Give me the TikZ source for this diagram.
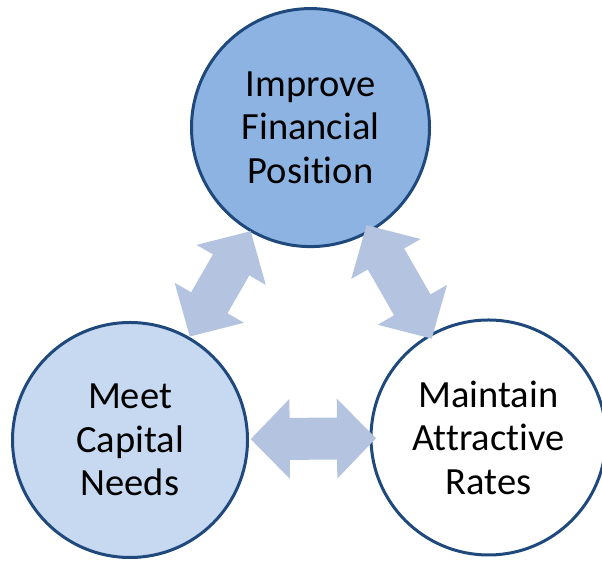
\documentclass[tikz,border=0pt]{standalone}
\usepackage{fontspec}
\setmainfont{Carlito}[Ligatures={NoCommon}]
\usetikzlibrary{calc}
\definecolor{rimblue}{HTML}{1F497D}
\definecolor{topfill}{HTML}{8DB3E2}
\definecolor{leftfill}{HTML}{C6D9F1}
\definecolor{arrowblue}{HTML}{B4C4E0}
\tikzset{
  bubble/.style={circle, draw=rimblue, line width=3pt, inner sep=0pt, align=center,
    font=\fontsize{38.5pt}{43.5pt}\selectfont, text=black},
  arrowfill/.style={fill=arrowblue, draw=none}
}
\newcommand\dblarrow[4]{%
  \coordinate (t1) at ($(#1.center)!#3!(#2.center)$);
  \coordinate (t2) at ($(#2.center)!#4!(#1.center)$);
  \coordinate (h1) at ($(t1)!39pt!(t2)$);
  \coordinate (h2) at ($(t2)!39pt!(t1)$);
  \fill[arrowfill] (t1) -- ($(h1)!40pt!90:(t2)$) -- ($(h1)!21pt!90:(t2)$)
    -- ($(h2)!21pt!-90:(t1)$) -- ($(h2)!40pt!-90:(t1)$) -- (t2)
    -- ($(h2)!40pt!90:(t1)$) -- ($(h2)!21pt!90:(t1)$)
    -- ($(h1)!21pt!-90:(t2)$) -- ($(h1)!40pt!-90:(t2)$) -- cycle;
}
\begin{document}
\begin{tikzpicture}[x=1pt,y=1pt]
\useasboundingbox (0,0) rectangle (602,561);
\node[bubble, fill=topfill, minimum size=238pt] (top) at (310.5,433.4) {Improve\\Financial\\Position};
\node[bubble, fill=leftfill, minimum size=235pt] (left) at (130,121) {Meet\\Capital\\Needs};
\node[bubble, fill=white, minimum size=235pt] (right) at (488.5,123.5) {Maintain\\Attractive\\Rates};
\dblarrow{top}{left}{119.6pt}{119.5pt}
\dblarrow{top}{right}{112.5pt}{114pt}
\dblarrow{left}{right}{120.7pt}{112.5pt}
\end{tikzpicture}
\end{document}
